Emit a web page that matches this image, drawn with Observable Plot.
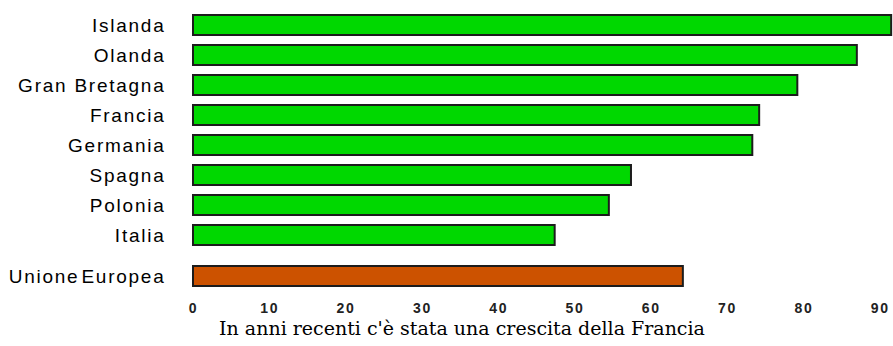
<!DOCTYPE html>
<html>
<head>
<meta charset="utf-8">
<script src="https://cdn.jsdelivr.net/npm/d3@7"></script>
<script src="https://cdn.jsdelivr.net/npm/@observablehq/plot@0.6"></script>
<style>
  html, body { margin: 0; padding: 0; background: #fff; }
  svg { display: block; }
  #caption {
    width: 893px;
    box-sizing: border-box;
    padding-left: 31px;
    text-align: center;
    font-family: "DejaVu Serif", "Liberation Serif", serif;
    font-size: 19px;
    line-height: 24px;
    color: #000;
    white-space: nowrap;
  }
</style>
</head>
<body>
<div id="chart"></div>
<div id="caption"></div>
<script>
const countries = ["Islanda", "Olanda", "Gran Bretagna", "Francia", "Germania", "Spagna", "Polonia", "Italia"];
const countryValues = [91.5, 87.0, 79.2, 74.2, 73.3, 57.4, 54.5, 47.4];
const euLabels = ["Unione Europea"];
const euValues = [64.2];
const xTicks = [0, 10, 20, 30, 40, 50, 60, 70, 80, 90];
const captionText = "In anni recenti c'è stata una crescita della Francia";

const green = "#00d800";
const orange = "#cc5200";
const edge = "#1c1c1c";

const countryData = countries.map((c, i) => ({name: c, value: countryValues[i]}));
const euData = euLabels.map((c, i) => ({name: c, value: euValues[i]}));

const xDomain = [0, 91.74];
const labelStyle = {
  fontFamily: "'Liberation Sans', Arial, sans-serif",
  fontSize: "19px",
  letterSpacing: "1.75px",
  color: "#000",
  background: "#fff",
  overflow: "visible"
};

const topPlot = Plot.plot({
  width: 893,
  height: 256,
  marginLeft: 193,
  marginRight: 0,
  marginTop: 9,
  marginBottom: 4.6,
  style: labelStyle,
  x: {domain: xDomain, axis: null},
  y: {domain: countries, paddingInner: 0.34, paddingOuter: 0.17, label: null},
  marks: [
    Plot.axisY({tickSize: 0, tickPadding: 28, label: null, fill: "#000", fontSize: 19}),
    Plot.barX(countryData, {x: "value", y: "name", fill: green, stroke: edge, strokeWidth: 2})
  ]
});

const bottomPlot = Plot.plot({
  width: 893,
  height: 60,
  marginLeft: 193,
  marginRight: 0,
  marginTop: 5,
  marginBottom: 24.7,
  style: {...labelStyle, wordSpacing: "-5px"},
  x: {domain: xDomain, label: null},
  y: {domain: euLabels, paddingInner: 0.34, paddingOuter: 0.17, label: null},
  marks: [
    Plot.axisY({tickSize: 0, tickPadding: 28, label: null, fill: "#000", fontSize: 19}),
    Plot.axisX({ticks: xTicks, tickSize: 0, tickPadding: 11, label: null, fontSize: 14, fontWeight: "bold", fill: "#222"}),
    Plot.barX(euData, {x: "value", y: "name", fill: orange, stroke: edge, strokeWidth: 2})
  ]
});

const chart = document.getElementById("chart");
chart.appendChild(topPlot);
chart.appendChild(bottomPlot);
document.getElementById("caption").textContent = captionText;
</script>
</body>
</html>
